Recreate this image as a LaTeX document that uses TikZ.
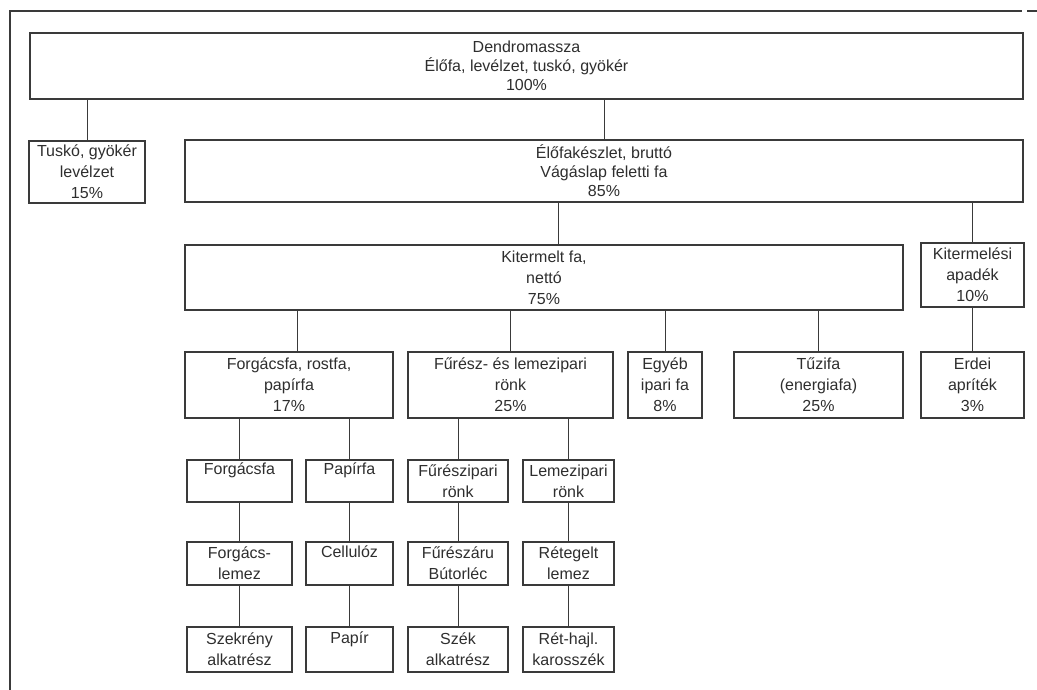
\documentclass[tikz,border=0pt]{standalone}
\usepackage{fontspec}
\setmainfont{Liberation Sans}
\usetikzlibrary{positioning}
\definecolor{lineGray}{HTML}{3A3A3A}
\definecolor{textGray}{HTML}{2E2E2E}

\begin{document}
\begin{tikzpicture}[x=1pt, y=-1pt,
      bx/.style={draw=lineGray, line width=1.1pt, inner sep=0pt, align=center,
        text=textGray, font=\fontsize{16}{21}\selectfont},
      thickbx/.style={bx, line width=2.4pt},
      link/.style={draw=lineGray, line width=0.9pt}]
    \useasboundingbox (0,0) rectangle (1037,690);
    \draw[lineGray, line width=1.2pt] (10,690) -- (10,11) -- (1022,11);
    \draw[lineGray, line width=1.2pt] (1027,11) -- (1037,11);

    \node[thickbx, minimum width=993, minimum height=66, font=\fontsize{16}{19}\selectfont]
      (dendro) at (526.5,66) {Dendromassza\\Élőfa, levélzet, tuskó, gyökér\\100\%};
    \node[bx, minimum width=116, minimum height=62] (tusko) at (87,172)
      {Tuskó, gyökér\\levélzet\\15\%};
    \node[bx, minimum width=838, minimum height=62, font=\fontsize{16}{19}\selectfont]
      (elofa) at (604,171) {Élőfakészlet, bruttó\\Vágáslap feletti fa\\85\%};
    \node[thickbx, minimum width=718, minimum height=65] (kitermelt) at (544,277.5)
      {Kitermelt fa,\\nettó\\75\%};
    \node[bx, minimum width=103, minimum height=64] (apadek) at (972.5,275)
      {Kitermelési\\apadék\\10\%};

    \node[bx, minimum width=208, minimum height=66] (forgacs) at (289,385)
      {Forgácsfa, rostfa,\\papírfa\\17\%};
    \node[bx, minimum width=205, minimum height=66] (furesz) at (510.5,385)
      {Fűrész- és lemezipari\\rönk\\25\%};
    \node[bx, minimum width=74, minimum height=66] (egyeb) at (665,385)
      {Egyéb\\ipari fa\\8\%};
    \node[bx, minimum width=169, minimum height=66] (tuzifa) at (818.5,385)
      {Tűzifa\\(energiafa)\\25\%};
    \node[bx, minimum width=103, minimum height=66] (erdei) at (972.5,385)
      {Erdei\\apríték\\3\%};

    \draw[link] (tusko.north) -- (tusko.north |- dendro.south);
    \draw[link] (elofa.north) -- (elofa.north |- dendro.south);
    \draw[link] ([xshift=14pt]kitermelt.north) -- ([xshift=14pt]kitermelt.north |- elofa.south);
    \draw[link] (apadek.north) -- (apadek.north |- elofa.south);
    \draw[link] ([xshift=8pt]forgacs.north) -- ([xshift=8pt]forgacs.north |- kitermelt.south);
    \draw[link] (furesz.north) -- (furesz.north |- kitermelt.south);
    \draw[link] (egyeb.north) -- (egyeb.north |- kitermelt.south);
    \draw[link] (tuzifa.north) -- (tuzifa.north |- kitermelt.south);
    \draw[link] (erdei.north) -- (apadek.south);

    \foreach \nm/\up/\cx/\w/\ta/\tb/\tc in
      {fa/forgacs/239.5/105/{Forgácsfa\\\phantom{g}}/{Forgács-\\lemez}/{Szekrény\\alkatrész},
       pa/forgacs/349.5/87/{Papírfa\\\phantom{g}}/{Cellulóz\\\phantom{g}}/{Papír\\\phantom{g}},
       fu/furesz/458/100/{Fűrészipari\\rönk}/{Fűrészáru\\Bútorléc}/{Szék\\alkatrész},
       le/furesz/568.5/91/{Lemezipari\\rönk}/{Rétegelt\\lemez}/{Rét-hajl.\\karosszék}} {
      \node[bx, minimum width=\w, minimum height=42] (\nm1) at (\cx,481) {\ta};
      \node[bx, minimum width=\w, minimum height=43] (\nm2) at (\cx,563.5) {\tb};
      \node[thickbx, minimum width=\w, minimum height=45] (\nm3) at (\cx,649.5) {\tc};
      \draw[link] (\nm1.north) -- (\nm1.north |- \up.south);
      \draw[link] (\nm2.north) -- (\nm1.south);
      \draw[link] (\nm3.north) -- (\nm2.south);
    }
  \end{tikzpicture}
\end{document}
